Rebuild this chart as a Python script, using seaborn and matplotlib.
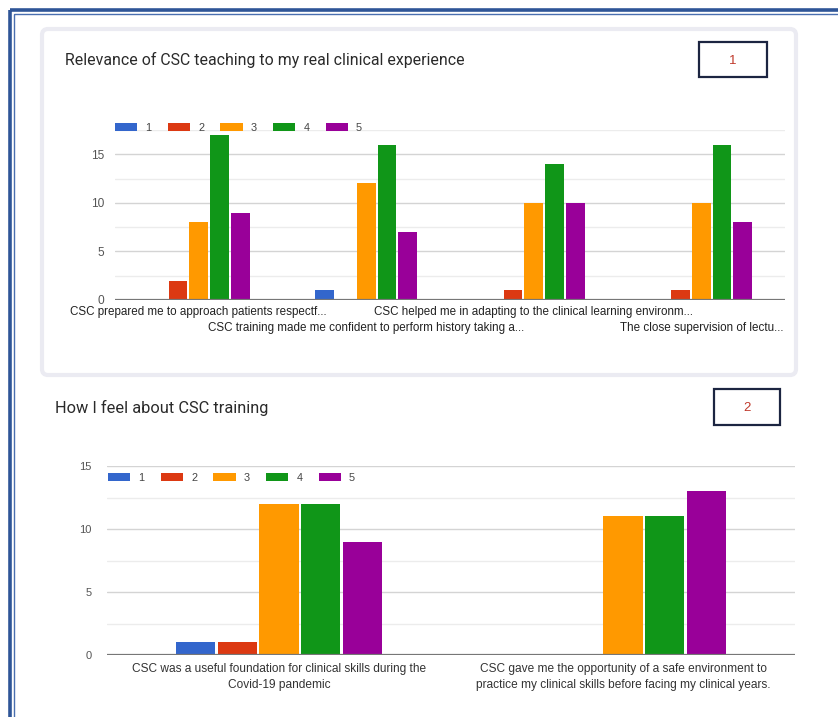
import pandas as pd
import matplotlib.pyplot as plt
import matplotlib.patches as mpatches
from matplotlib.ticker import MultipleLocator
import seaborn as sns

# --- data ---
RATINGS = ['1', '2', '3', '4', '5']
COLORS = ['#3366cc', '#dc3912', '#ff9900', '#109618', '#990099']

Q1_LABELS = [
    'CSC prepared me to approach patients respectf...',
    'CSC training made me confident to perform history taking a...',
    'CSC helped me in adapting to the clinical learning environm...',
    'The close supervision of lectu...',
]
Q1_R1 = [0, 1, 0, 0]
Q1_R2 = [2, 0, 1, 1]
Q1_R3 = [8, 12, 10, 10]
Q1_R4 = [17, 16, 14, 16]
Q1_R5 = [9, 7, 10, 8]

Q2_LABELS = [
    'CSC was a useful foundation for clinical skills during the\nCovid-19 pandemic',
    'CSC gave me the opportunity of a safe environment to\npractice my clinical skills before facing my clinical years.',
]
Q2_R1 = [1, 0]
Q2_R2 = [1, 0]
Q2_R3 = [12, 11]
Q2_R4 = [12, 11]
Q2_R5 = [9, 13]

TITLE_1 = 'Relevance of CSC teaching to my real clinical experience'
TITLE_2 = 'How I feel about CSC training'

W, H = 838, 717


def long_df(labels, series):
    rows = []
    for r, vals in zip(RATINGS, series):
        for q, v in zip(labels, vals):
            rows.append({'question': q, 'rating': r, 'count': v})
    return pd.DataFrame(rows)


def px_axes(fig, x0, y0, x1, y1):
    # pixel box (top-left origin) -> figure axes
    return fig.add_axes([x0 / W, 1 - y1 / H, (x1 - x0) / W, (y1 - y0) / H])


def style_axes(ax, ymax, label_size, pad):
    ax.set_ylim(0, ymax)
    ax.yaxis.set_major_locator(MultipleLocator(5))
    ax.yaxis.set_minor_locator(MultipleLocator(2.5))
    ax.grid(axis='y', which='major', color='#d4d4d4', linewidth=1.0)
    ax.grid(axis='y', which='minor', color='#ececec', linewidth=1.0)
    ax.grid(axis='x', visible=False)
    ax.set_axisbelow(True)
    ax.axhline(0, color='#777777', linewidth=1.6, zorder=5)
    for s in ax.spines.values():
        s.set_visible(False)
    ax.tick_params(axis='both', which='both', length=0)
    ax.tick_params(axis='y', labelsize=label_size, labelcolor='#555555', pad=pad)
    ax.set_xlabel('')
    ax.set_ylabel('')


def add_legend(ax, fig, x, y):
    handles, labels = ax.get_legend_handles_labels()
    if ax.get_legend() is not None:
        ax.get_legend().remove()
    leg = fig.legend(handles, labels, ncol=5, frameon=False,
                     loc='center left', bbox_to_anchor=(x / W, 1 - y / H),
                     fontsize=7.8, handlelength=2.05, handleheight=0.75,
                     handletextpad=0.75, columnspacing=1.5, borderpad=0,
                     borderaxespad=0)
    for t in leg.get_texts():
        t.set_color('#444444')


sns.set_theme(style='white')
plt.rcParams['font.family'] = ['Liberation Sans', 'DejaVu Sans']

fig = plt.figure(figsize=(W / 100, H / 100), dpi=100)
fig.patch.set_facecolor('white')

# background frame and card
bg = fig.add_axes([0, 0, 1, 1])
bg.set_xlim(0, W)
bg.set_ylim(H, 0)
bg.axis('off')
bg.add_patch(mpatches.Rectangle((9.5, 9.5), W + 20, H + 20, fill=False,
                                edgecolor='#2f5597', linewidth=2.6))
bg.add_patch(mpatches.Rectangle((13.5, 13.5), W + 20, H + 20, fill=False,
                                edgecolor='#4a6fb0', linewidth=1.0))
bg.add_patch(mpatches.FancyBboxPatch((42, 29), 754, 346,
                                     boxstyle='round,pad=0,rounding_size=6',
                                     facecolor='white', edgecolor='#ebebf2',
                                     linewidth=3.0))
bg.text(65, 60, TITLE_1, fontsize=11.4, color='#2a2a2a', va='center',
        family=['Roboto', 'DejaVu Sans'])
bg.text(55, 408, TITLE_2, fontsize=11.8, color='#2a2a2a', va='center',
        family=['Roboto', 'DejaVu Sans'])
bg.add_patch(mpatches.Rectangle((699, 42), 68, 35, fill=False,
                                edgecolor='#1c2541', linewidth=1.6))
bg.text(733, 61, '1', fontsize=9.5, color='#c0392b', ha='center', va='center')
bg.add_patch(mpatches.Rectangle((714, 389), 66, 36, fill=False,
                                edgecolor='#1c2541', linewidth=1.6))
bg.text(747, 408, '2', fontsize=9.5, color='#c0392b', ha='center', va='center')

# --- chart 1 ---
df1 = long_df(Q1_LABELS, [Q1_R1, Q1_R2, Q1_R3, Q1_R4, Q1_R5])
ax1 = px_axes(fig, 115, 130, 785, 300)
sns.barplot(data=df1, x='question', y='count', hue='rating', palette=COLORS,
            width=0.62, gap=0.1, saturation=1, ax=ax1, order=Q1_LABELS,
            hue_order=RATINGS, linewidth=0)
style_axes(ax1, 17.5, 8.6, 8)
ax1.set_xticks(range(len(Q1_LABELS)))
ax1.set_xticklabels(Q1_LABELS, fontsize=8.4, color='#222222')
# staggered labels: every second one on a lower row
for i, tick in enumerate(ax1.xaxis.get_major_ticks()):
    tick.set_pad(4.5 if i % 2 == 0 else 15.5)
add_legend(ax1, fig, 115, 128)

# --- chart 2 ---
df2 = long_df(Q2_LABELS, [Q2_R1, Q2_R2, Q2_R3, Q2_R4, Q2_R5])
ax2 = px_axes(fig, 107, 466, 795, 655)
sns.barplot(data=df2, x='question', y='count', hue='rating', palette=COLORS,
            width=0.61, gap=0.07, saturation=1, ax=ax2, order=Q2_LABELS,
            hue_order=RATINGS, linewidth=0)
style_axes(ax2, 15, 8.0, 11)
ax2.set_xticks(range(len(Q2_LABELS)))
ax2.set_xticklabels(Q2_LABELS, fontsize=8.6, color='#333333', linespacing=1.45)
ax2.tick_params(axis='x', pad=6)
add_legend(ax2, fig, 108, 478)

fig.savefig('out.png', dpi=100)
